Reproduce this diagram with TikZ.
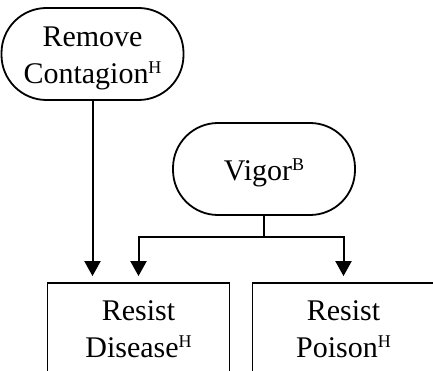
\documentclass[tikz,border=0pt]{standalone}
\usepackage{fontspec}
\setmainfont{Liberation Serif}
\usetikzlibrary{arrows.meta}
\newcommand\mysup[1]{\raisebox{10pt}{\fontsize{18}{18}\selectfont #1}}
\newcommand\tstrut{\rule{0pt}{28.5pt}}
\tikzset{
  base/.style={draw=black, line width=1.8pt, align=center, inner sep=0pt,
    font=\fontsize{30}{37}\selectfont, minimum width=182pt},
  pill/.style={base, rounded corners=45pt, minimum height=92pt},
  boxnode/.style={base, rectangle, minimum height=93pt},
  arr/.style={draw=black, line width=2pt, -{Triangle[width=16pt,length=15pt]}, shorten >=6pt},
  ln/.style={draw=black, line width=2pt}
}
\begin{document}
\begin{tikzpicture}[x=1pt,y=-1pt]
\useasboundingbox (0,0) rectangle (433,371);
\node[pill] (rc) at (92.5,54) {\tstrut Remove\\Contagion\mysup{H}};
\node[pill] (vg) at (264,169) {\tstrut Vigor\mysup{B}};
\node[boxnode] (ld) at (138.5,329.5) {Resist\\Disease\mysup{H}};
\node[boxnode] (rp) at (343.5,329.5) {Resist\\Poison\mysup{H}};
\coordinate (j) at (264,237);
\draw[arr] (rc.south) -- (rc.south |- ld.north);
\draw[ln] (vg.south) -- (j);
\draw[arr] (j) -| (ld.north);
\draw[arr] (j) -| (rp.north);
\end{tikzpicture}
\end{document}
